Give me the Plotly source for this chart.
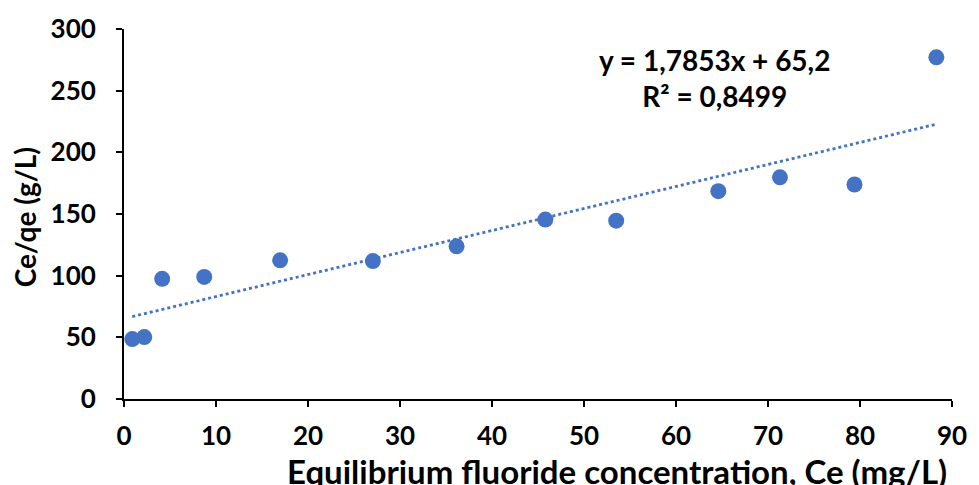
import plotly.graph_objects as go

# Equilibrium data: Ce (mg/L) and Ce/qe (g/L)
ce = [0.9, 2.2, 4.15, 8.72, 16.97, 27.05, 36.15, 45.8, 53.5, 64.6, 71.3, 79.4, 88.3]
ce_qe = [48.6, 50.2, 97.4, 99.0, 112.4, 111.8, 123.8, 145.5, 144.6, 168.5, 179.7, 173.9, 277.0]

# Linear trendline coefficients (Langmuir linearisation)
slope = 1.7853
intercept = 65.2
r_squared = 0.8499

x_ticks = [0, 10, 20, 30, 40, 50, 60, 70, 80, 90]
y_ticks = [0, 50, 100, 150, 200, 250, 300]

blue = "#4472C4"
font_family = "Lato, 'Open Sans', sans-serif"

trend_x = [min(ce), max(ce)]
trend_y = [slope * v + intercept for v in trend_x]

fig = go.Figure()
fig.add_trace(go.Scatter(
    x=trend_x, y=trend_y, mode="lines",
    line=dict(color=blue, width=2.8, dash="dot"),
    hoverinfo="skip", showlegend=False,
))
fig.add_trace(go.Scatter(
    x=ce, y=ce_qe, mode="markers",
    marker=dict(color=blue, size=16, line=dict(width=0)),
    showlegend=False,
))

axis_common = dict(
    showline=True, linecolor="black", linewidth=2,
    ticks="outside", ticklen=6, tickwidth=2, tickcolor="black",
    showgrid=False, zeroline=False,
    tickfont=dict(family=font_family, size=26, color="black", weight="bold"),
)

fig.update_xaxes(range=[0, 90], tickvals=x_ticks, ticklabelstandoff=7, **axis_common)
fig.update_yaxes(range=[0, 300], tickvals=y_ticks, ticklabelstandoff=15, **axis_common)

fig.add_annotation(
    text="Equilibrium fluoride concentration, Ce (mg/L)",
    xref="paper", yref="paper", x=0.595, y=-0.195, xanchor="center", yanchor="middle",
    showarrow=False, font=dict(family=font_family, size=33, color="black", weight="bold"),
)
fig.add_annotation(
    text="Ce/qe (g/L)", textangle=-90,
    xref="paper", yref="paper", x=-0.12, y=0.49, xanchor="center", yanchor="middle",
    showarrow=False, font=dict(family=font_family, size=28, color="black", weight="bold"),
)
fig.add_annotation(
    text=f"y = {slope:.4f}x + {intercept:.1f}".replace(".", ",") + "<br>"
         + f"R² = {r_squared:.4f}".replace(".", ","),
    xref="x", yref="y", x=64.2, y=260, xanchor="center", yanchor="middle",
    align="center", showarrow=False,
    font=dict(family=font_family, size=28, color="black", weight="bold"),
)

fig.update_layout(
    width=979, height=485,
    margin=dict(l=124, r=22, t=24, b=86),
    plot_bgcolor="white", paper_bgcolor="white",
)

fig.write_html("out.html")
